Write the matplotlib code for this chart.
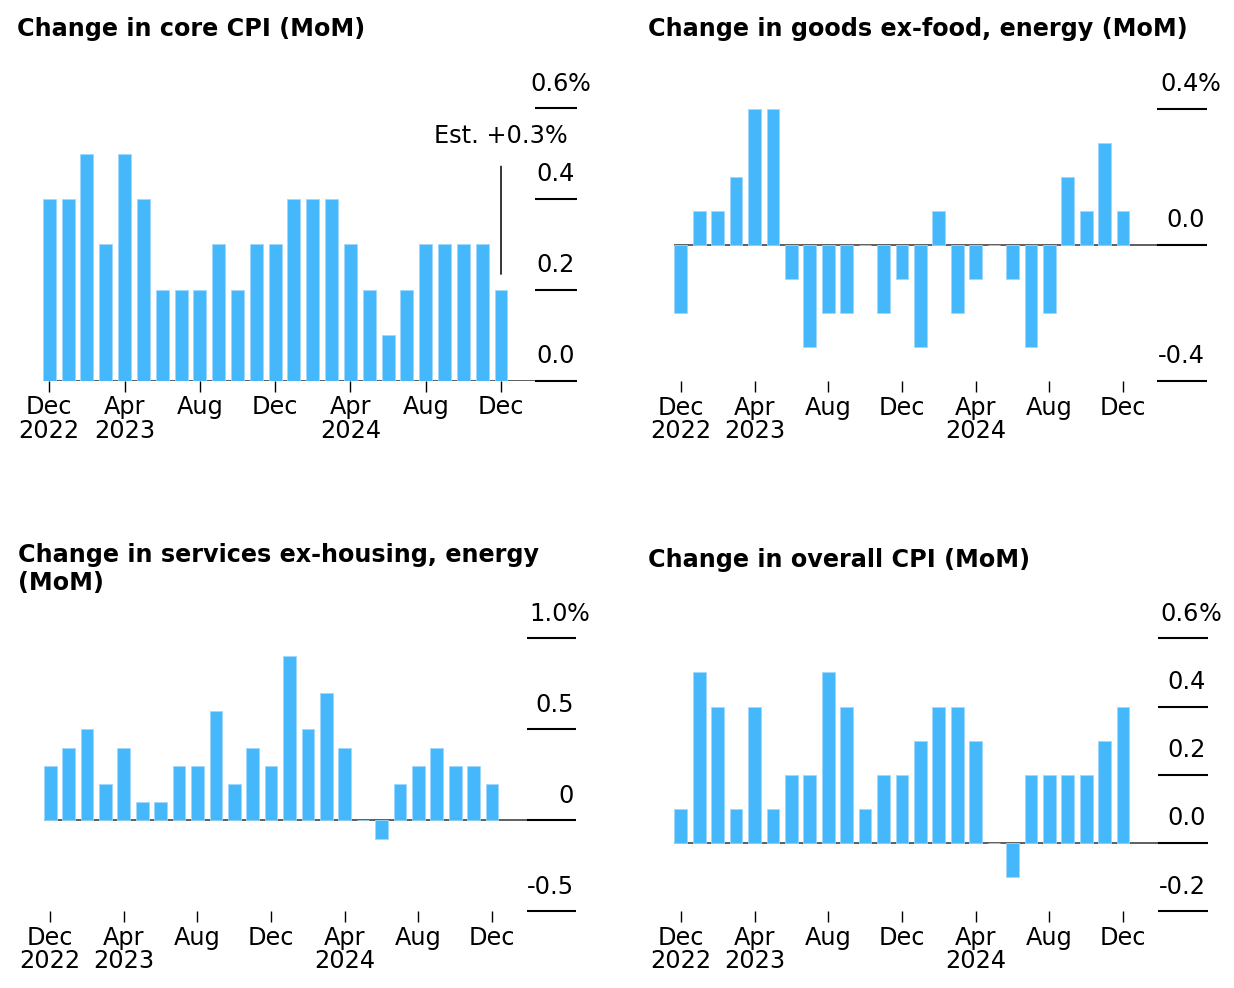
import numpy as np
import matplotlib
matplotlib.use("Agg")
import matplotlib.pyplot as plt

plt.rcParams["font.family"] = ["DejaVu Sans"]

# months Dec 2022 .. Dec 2024
tick_pos = [0, 4, 8, 12, 16, 20, 24]
tick_labels = ["Dec\n2022", "Apr\n2023", "Aug", "Dec", "Apr\n2024", "Aug", "Dec"]

core = [0.4, 0.4, 0.5, 0.3, 0.5, 0.4, 0.2, 0.2, 0.2, 0.3, 0.2, 0.3, 0.3,
        0.4, 0.4, 0.4, 0.3, 0.2, 0.1, 0.2, 0.3, 0.3, 0.3, 0.3, 0.2]
goods = [-0.2, 0.1, 0.1, 0.2, 0.4, 0.4, -0.1, -0.3, -0.2, -0.2, 0.0, -0.2, -0.1,
         -0.3, 0.1, -0.2, -0.1, 0.0, -0.1, -0.3, -0.2, 0.2, 0.1, 0.3, 0.1]
services = [0.3, 0.4, 0.5, 0.2, 0.4, 0.1, 0.1, 0.3, 0.3, 0.6, 0.2, 0.4, 0.3,
            0.9, 0.5, 0.7, 0.4, 0.0, -0.1, 0.2, 0.3, 0.4, 0.3, 0.3, 0.2]
overall = [0.1, 0.5, 0.4, 0.1, 0.4, 0.1, 0.2, 0.2, 0.5, 0.4, 0.1, 0.2, 0.2,
           0.3, 0.4, 0.4, 0.3, 0.0, -0.1, 0.2, 0.2, 0.2, 0.2, 0.3, 0.4]

core_ticks = [0.0, 0.2, 0.4, 0.6]
core_labels = ["0.0", "0.2", "0.4", "0.6"]
goods_ticks = [-0.4, 0.0, 0.4]
goods_labels = ["-0.4", "0.0", "0.4"]
services_ticks = [-0.5, 0.0, 0.5, 1.0]
services_labels = ["-0.5", "0", "0.5", "1.0"]
overall_ticks = [-0.2, 0.0, 0.2, 0.4, 0.6]
overall_labels = ["-0.2", "0.0", "0.2", "0.4", "0.6"]

BLUE = "#45b7fb"
FS = 17.3
FS_TITLE = 17.2
W, H = 1234, 988
BW = 0.69

fig = plt.figure(figsize=(W / 100, H / 100), dpi=100)


def make_axes(c0, c1, right, top, bottom, grid_px):
    # place axes in pixel terms: first/last bar centre, right edge, top/bottom
    s = (c1 - c0) / 24
    left = c0 - BW / 2 * s
    ax = fig.add_axes([left / W, 1 - bottom / H, (right - left) / W, (bottom - top) / H])
    ax.set_xlim(-BW / 2, (right - c0) / s)
    return ax, (grid_px - left) / (right - left)


def panel(ax, grid_from, values, yticks, ylabels):
    x = np.arange(len(values))
    ax.set_ylim(yticks[0], yticks[-1])
    ax.axhline(0, color="#333333", lw=1.1, zorder=1)
    ax.bar(x, values, width=BW, color=BLUE, edgecolor="#9fd8fd", linewidth=0.6, zorder=2)
    ax.hlines(yticks, grid_from, 1, transform=ax.get_yaxis_transform(),
              color="black", lw=1.5, zorder=3, clip_on=False)
    for sp in ax.spines.values():
        sp.set_visible(False)
    ax.set_yticks([])
    ax.set_xticks(tick_pos, tick_labels)
    ax.tick_params(axis="x", length=8, width=1.0, color="black", pad=2.5, labelsize=FS)
    for lbl in ax.get_xticklabels():
        lbl.set_linespacing(0.97)
    tr = ax.get_yaxis_transform()
    for i, (t, lab) in enumerate(zip(yticks, ylabels)):
        top = i == len(yticks) - 1
        txt = ax.annotate(lab, xy=(1, t), xycoords=tr, xytext=(-6 if top else -1.5, 12.7),
                          textcoords="offset points", ha="right", va="baseline", fontsize=FS)
        if top:
            ax.annotate("%", xy=(1, 0), xycoords=txt, xytext=(-0.5, 0), textcoords="offset points",
                        ha="left", va="bottom", fontsize=FS)


ax1, g1 = make_axes(49.3, 501.0, 577, 108.3, 380.7, 535)
ax2, g2 = make_axes(680.8, 1123.0, 1207, 109.0, 381.0, 1157)
ax3, g3 = make_axes(50.2, 492.0, 576, 638.3, 911.3, 527)
ax4, g4 = make_axes(680.8, 1123.0, 1207.5, 638.3, 911.3, 1158)

panel(ax1, g1, core, core_ticks, core_labels)
panel(ax2, g2, goods, goods_ticks, goods_labels)
panel(ax3, g3, services, services_ticks, services_labels)
panel(ax4, g4, overall, overall_ticks, overall_labels)

# estimate callout on the last core bar
last = len(core) - 1
ax1.annotate("Est. +0.3%", xy=(last, core[last]), xytext=(0, 105.6), textcoords="offset points",
             ha="center", va="baseline", fontsize=FS)
ax1.annotate("", xy=(last, core[last]), xytext=(0, 89), textcoords="offset points",
             arrowprops=dict(arrowstyle="-", color="black", lw=1.1, shrinkA=0, shrinkB=11.3))

# (text, left px, baseline px of last line)
titles = [
    ("Change in core CPI (MoM)", 17, 36),
    ("Change in goods ex-food, energy (MoM)", 647.5, 36),
    ("Change in services ex-housing, energy\n(MoM)", 17.5, 590),
    ("Change in overall CPI (MoM)", 647.5, 566.7),
]
for text, x, y in titles:
    fig.text(x / W, 1 - y / H, text, ha="left", va="baseline", fontsize=FS_TITLE,
             fontweight="bold", linespacing=1.22)

fig.savefig("out.png", dpi=100)
